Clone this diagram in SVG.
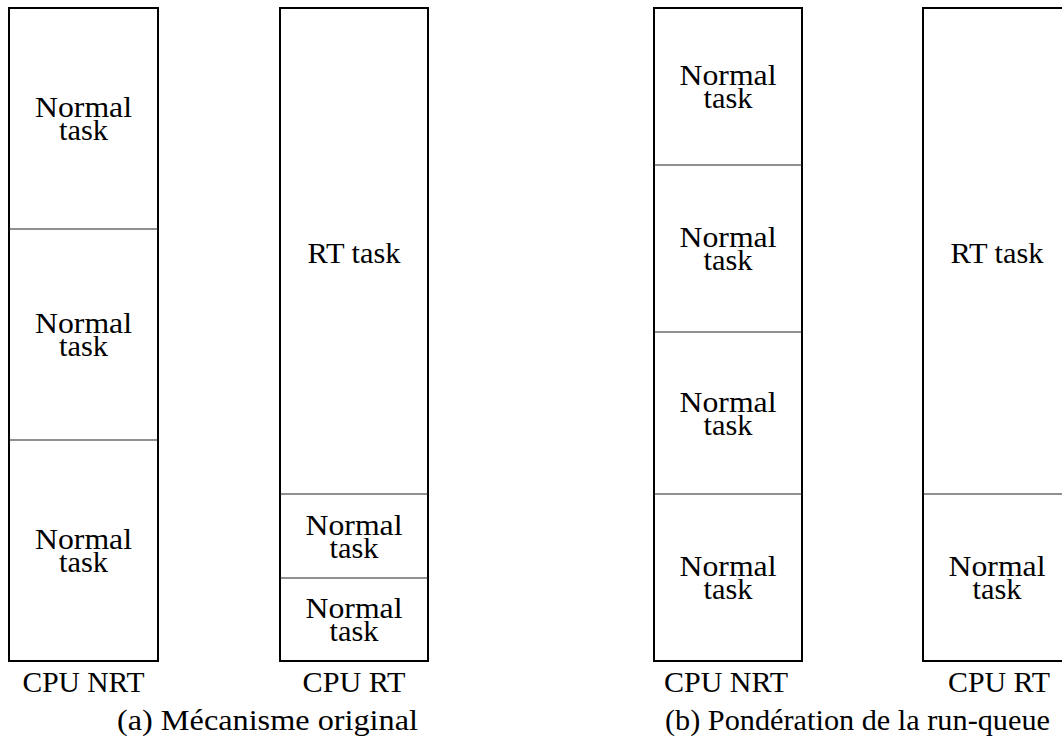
<svg xmlns="http://www.w3.org/2000/svg" width="1062" height="738" viewBox="0 0 1062 738">
<style>
.col{fill:#fff;stroke:#000;stroke-width:2}
.div{stroke:#222;stroke-width:1.2}
text{font-family:"Liberation Serif","Times New Roman",serif;font-size:29px;fill:#000;text-anchor:middle}
</style>
<defs>
<text id="nt"><tspan x="0" y="0" textLength="97" lengthAdjust="spacingAndGlyphs">Normal</tspan><tspan x="0" y="23" textLength="49" lengthAdjust="spacingAndGlyphs">task</tspan></text>
</defs>
<rect width="1062" height="738" fill="#fff"/>
<g id="a-nrt">
<rect class="col" x="9" y="8" width="149" height="653"/>
<line class="div" x1="9" y1="229" x2="158" y2="229"/>
<line class="div" x1="9" y1="440" x2="158" y2="440"/>
<use href="#nt" x="83.5" y="117"/>
<use href="#nt" x="83.5" y="333"/>
<use href="#nt" x="83.5" y="549"/>
<text x="83.5" y="692" textLength="122" lengthAdjust="spacingAndGlyphs">CPU NRT</text>
</g>
<g id="a-rt">
<rect class="col" x="280" y="8" width="148" height="653"/>
<line class="div" x1="280" y1="494" x2="428" y2="494"/>
<line class="div" x1="280" y1="578" x2="428" y2="578"/>
<text x="354" y="263" textLength="93" lengthAdjust="spacingAndGlyphs">RT task</text>
<use href="#nt" x="354" y="534.5"/>
<use href="#nt" x="354" y="618"/>
<text x="354" y="692" textLength="103" lengthAdjust="spacingAndGlyphs">CPU RT</text>
</g>
<text id="cap-a" x="267.5" y="730" textLength="301" lengthAdjust="spacingAndGlyphs">(a)  Mécanisme original</text>
<g id="b-nrt">
<rect class="col" x="654" y="8" width="148" height="653"/>
<line class="div" x1="654" y1="165" x2="802" y2="165"/>
<line class="div" x1="654" y1="332" x2="802" y2="332"/>
<line class="div" x1="654" y1="494" x2="802" y2="494"/>
<use href="#nt" x="728" y="85"/>
<use href="#nt" x="728" y="247"/>
<use href="#nt" x="728" y="412"/>
<use href="#nt" x="728" y="576"/>
<text x="726" y="692" textLength="124" lengthAdjust="spacingAndGlyphs">CPU NRT</text>
</g>
<g id="b-rt">
<rect class="col" x="923" y="8" width="148" height="653"/>
<line class="div" x1="923" y1="494" x2="1071" y2="494"/>
<text x="997" y="263" textLength="93" lengthAdjust="spacingAndGlyphs">RT task</text>
<use href="#nt" x="997" y="576"/>
<text x="999" y="692" textLength="102" lengthAdjust="spacingAndGlyphs">CPU RT</text>
</g>
<text id="cap-b" x="857.5" y="730" textLength="385" lengthAdjust="spacingAndGlyphs">(b)  Pondération de la run-queue</text>
<g id="connectors"/>
</svg>
